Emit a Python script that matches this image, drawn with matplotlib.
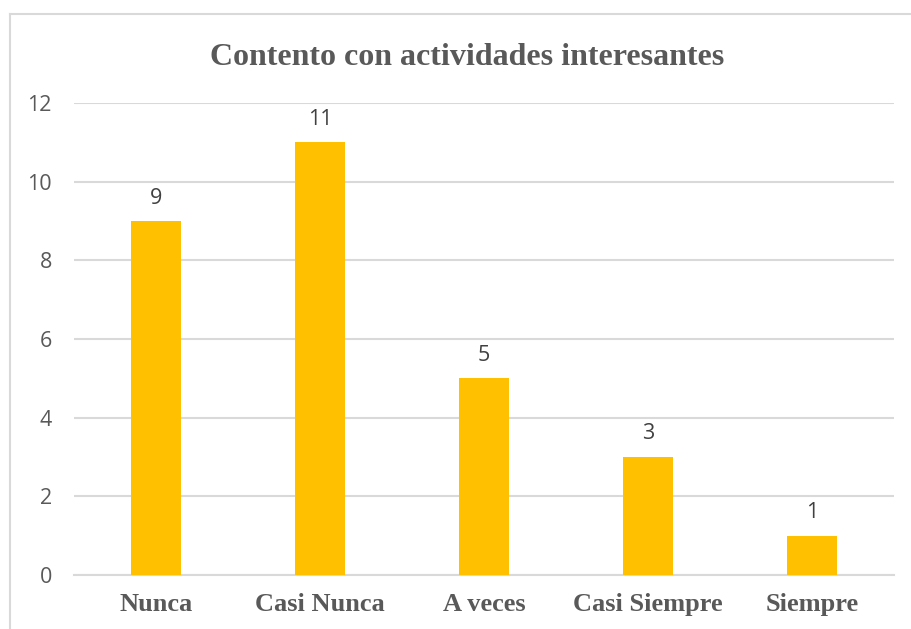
import matplotlib.pyplot as plt
from matplotlib.lines import Line2D

categorias = ['Nunca', 'Casi Nunca', 'A veces', 'Casi Siempre', 'Siempre']
valores = [9, 11, 5, 3, 1]
marcas_y = [0, 2, 4, 6, 8, 10, 12]

fig = plt.figure(figsize=(9.11, 6.29), dpi=100)
ax = fig.add_axes([0.0812, 0.0859, 0.9001, 0.7503])

x = range(len(categorias))
barras = ax.bar(x, valores, width=0.31, color='#FFC000', zorder=3)

ax.set_xlim(-0.5, len(categorias) - 0.5)
ax.set_ylim(0, 12)
ax.set_yticks(marcas_y)
ax.set_xticks(list(x))
ax.set_xticklabels(categorias, family='Liberation Serif', fontweight='bold',
                   fontsize=19, color='#595959')
for t in ax.get_yticklabels():
    t.set_family('Open Sans')
    t.set_fontsize(15.5)
    t.set_color('#595959')
ax.tick_params(axis='y', length=0, pad=16)
ax.tick_params(axis='x', length=0, pad=13)

ax.grid(axis='y', color='#D9D9D9', linewidth=1.5, zorder=0)
for lado in ['top', 'right', 'left']:
    ax.spines[lado].set_visible(False)
ax.spines['bottom'].set_color('#D9D9D9')
ax.spines['bottom'].set_linewidth(1.5)

# etiquetas de valor encima de cada barra
for b, v in zip(barras, valores):
    ax.annotate(str(v), (b.get_x() + b.get_width() / 2, v),
                xytext=(0, 9), textcoords='offset points',
                ha='center', va='bottom', family='Open Sans',
                fontsize=15.5, color='#404040')

fig.text(0.5126, 0.909, 'Contento con actividades interesantes',
         ha='center', va='center', family='Liberation Serif',
         fontweight='bold', fontsize=23, color='#595959')

# marco del gráfico
fig.add_artist(Line2D([10 / 911, 1], [1 - 13.5 / 629] * 2,
                      transform=fig.transFigure, color='#D9D9D9', linewidth=1.5))
fig.add_artist(Line2D([10 / 911] * 2, [0, 1 - 13.5 / 629],
                      transform=fig.transFigure, color='#D9D9D9', linewidth=1.5))

fig.savefig('out.png', dpi=100)
